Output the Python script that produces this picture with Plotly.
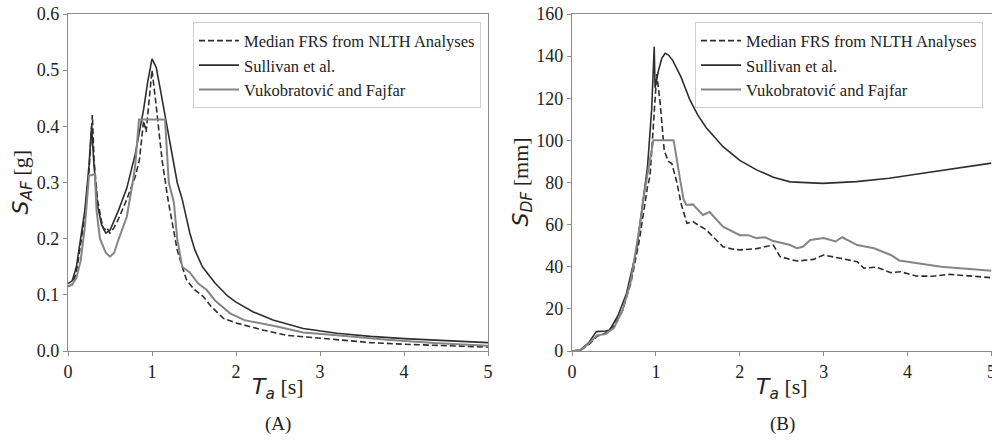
import plotly.graph_objects as go

# ---------------- Panel (A): floor acceleration spectra S_AF [g] ----------------
ta_med_a = [0, 0.05, 0.1, 0.15, 0.2, 0.25, 0.27, 0.29, 0.31, 0.35, 0.4, 0.43, 0.46, 0.5, 0.55, 0.6,
            0.7, 0.8, 0.85, 0.9, 0.93, 0.97, 1.0, 1.04, 1.07, 1.12, 1.19, 1.3, 1.35, 1.41, 1.5, 1.61,
            1.7, 1.85, 2.0, 2.33, 2.6, 3.2, 3.6, 4.0, 4.5, 5.0]
saf_med = [0.115, 0.118, 0.14, 0.19, 0.24, 0.32, 0.38, 0.42, 0.34, 0.27, 0.23, 0.215, 0.22, 0.21, 0.22, 0.235,
           0.27, 0.31, 0.34, 0.41, 0.39, 0.45, 0.50, 0.45, 0.41, 0.34, 0.27, 0.18, 0.155, 0.127, 0.11, 0.097,
           0.08, 0.058, 0.05, 0.037, 0.028, 0.02, 0.015, 0.012, 0.009, 0.007]

ta_sul_a = [0, 0.05, 0.1, 0.15, 0.2, 0.25, 0.28, 0.31, 0.35, 0.4, 0.45, 0.5, 0.6, 0.7, 0.8, 0.9, 0.95,
            1.0, 1.05, 1.1, 1.2, 1.3, 1.36, 1.45, 1.51, 1.6, 1.75, 1.9, 2.0, 2.2, 2.44, 2.8, 3.2, 3.6, 4.0, 4.5, 5.0]
saf_sul = [0.12, 0.125, 0.15, 0.2, 0.25, 0.33, 0.40, 0.33, 0.26, 0.225, 0.21, 0.215, 0.25, 0.29, 0.35, 0.43, 0.48,
           0.52, 0.505, 0.465, 0.385, 0.30, 0.27, 0.21, 0.18, 0.15, 0.121, 0.098, 0.087, 0.07, 0.055, 0.04, 0.0315,
           0.026, 0.022, 0.018, 0.015]

ta_vf_a = [0, 0.05, 0.1, 0.15, 0.2, 0.24, 0.25, 0.32, 0.34, 0.38, 0.45, 0.5, 0.55, 0.6, 0.7, 0.77, 0.8, 0.845,
           1.155, 1.2, 1.24, 1.26, 1.3, 1.36, 1.45, 1.55, 1.65, 1.75, 1.93, 2.1, 2.5, 2.8, 3.2, 3.8, 4.4, 5.0]
saf_vf = [0.115, 0.118, 0.13, 0.16, 0.22, 0.30, 0.312, 0.315, 0.25, 0.2, 0.175, 0.168, 0.175, 0.198, 0.239, 0.30,
          0.33, 0.412, 0.412, 0.30, 0.275, 0.265, 0.2, 0.15, 0.14, 0.12, 0.109, 0.09, 0.067, 0.055, 0.043, 0.033,
          0.028, 0.02, 0.014, 0.0095]

# ---------------- Panel (B): floor displacement spectra S_DF [mm] ----------------
ta_med_b = [0, 0.1, 0.2, 0.3, 0.4, 0.5, 0.6, 0.7, 0.8, 0.85, 0.9, 0.93, 0.97, 1.01, 1.05, 1.1, 1.15, 1.19,
            1.25, 1.3, 1.37, 1.44, 1.6, 1.8, 1.9, 2.0, 2.2, 2.4, 2.48, 2.68, 2.88, 3.0, 3.2, 3.4, 3.48, 3.63,
            3.8, 3.92, 4.1, 4.3, 4.5, 4.7, 5.0]
sdf_med = [0, 0.3, 3, 7, 8.5, 12, 19, 32, 52, 65, 78, 83, 110, 131.5, 118, 95, 90, 89,
           80, 70, 60.6, 61.4, 57.5, 49.5, 48.5, 48, 48.6, 50.3, 44.8, 42.7, 43.5, 45.6, 44, 42.4, 39.3, 39.8,
           37.2, 37.6, 35.6, 35.5, 36.4, 35.8, 34.8]

ta_sul_b = [0, 0.1, 0.2, 0.29, 0.4, 0.45, 0.55, 0.65, 0.77, 0.85, 0.9, 0.95, 0.98, 0.99, 1.03, 1.07, 1.11,
            1.15, 1.2, 1.3, 1.405, 1.5, 1.6, 1.8, 2.0, 2.2, 2.4, 2.6, 2.99, 3.39, 3.78, 4.18, 4.58, 5.0]
sdf_sul = [0, 0.5, 4, 9.2, 9.5, 10, 17, 27.4, 48, 71.7, 87.5, 115, 144.5, 125, 133, 139, 141.3,
           140.5, 138, 130, 119.2, 112, 106, 97, 90.5, 86, 82.5, 80.3, 79.6, 80.4, 82, 84.4, 86.7, 89.2]

ta_vf_b = [0, 0.1, 0.2, 0.3, 0.4, 0.5, 0.6, 0.7, 0.81, 0.85, 0.9, 0.95, 0.97, 1.21, 1.22, 1.29, 1.33, 1.365,
           1.44, 1.56, 1.64, 1.8, 2.0, 2.1, 2.2, 2.3, 2.4, 2.6, 2.68, 2.75, 2.84, 3.0, 3.14, 3.22, 3.4, 3.6,
           3.8, 3.9, 4.0, 4.4, 5.0]
sdf_vf = [0, 0.3, 3.5, 7.5, 8, 11, 19, 33, 60, 72, 84, 97, 100, 100, 98, 81, 72, 69.3,
          69.6, 64.6, 66, 59, 55, 55, 53.6, 54, 52.2, 50.3, 48.8, 49.5, 52.7, 53.6, 52, 54, 50.3, 48.8,
          45.6, 43, 42.4, 40, 38.1]

series_names = ["Median FRS from NLTH Analyses", "Sullivan et al.", "Vukobratović and Fajfar"]
x_ticks = [0, 1, 2, 3, 4, 5]

DARK = "#2e2e2e"
GRAY = "#858585"
SERIF = "Liberation Serif, Times New Roman, serif"
SANS = "DejaVu Sans, sans-serif"

W, H = 992, 441

fig = go.Figure()

def add_panel(xa, ya, legend, data):
    styles = [dict(color=DARK, width=1.6, dash="6px,3px"),
              dict(color=DARK, width=1.6),
              dict(color=GRAY, width=2.0)]
    for name, (xs, ys), st in zip(series_names, data, styles):
        fig.add_trace(go.Scatter(x=xs, y=ys, mode="lines", name=name, line=st,
                                 xaxis=xa, yaxis=ya, legend=legend))

add_panel("x", "y", "legend",
          [(ta_med_a, saf_med), (ta_sul_a, saf_sul), (ta_vf_a, saf_vf)])
add_panel("x2", "y2", "legend2",
          [(ta_med_b, sdf_med), (ta_sul_b, sdf_sul), (ta_vf_b, sdf_vf)])

axis_common = dict(showline=True, mirror=True, linecolor="#8c8c8c", linewidth=1.3,
                   ticks="outside", ticklen=4, tickcolor="#8c8c8c", tickwidth=1,
                   showgrid=False, zeroline=False, automargin=False,
                   ticklabeloverflow="allow",
                   tickfont=dict(family=SERIF, size=18, color="#222"))

legend_common = dict(bgcolor="rgba(255,255,255,0.9)", bordercolor="#cfcfcf", borderwidth=1,
                     font=dict(family=SERIF, size=16.5, color="#222"),
                     xanchor="right", yanchor="top", tracegroupgap=0, itemwidth=40)

fig.update_layout(
    width=W, height=H,
    margin=dict(l=0, r=0, t=14, b=90, autoexpand=False),
    paper_bgcolor="white", plot_bgcolor="white",
    showlegend=True,
    xaxis=dict(domain=[68/W, 488/W], range=[0, 5], tickvals=x_ticks, anchor="y", **axis_common),
    yaxis=dict(domain=[0, 1], range=[0, 0.6], dtick=0.1, tickformat=".1f", anchor="x", **axis_common),
    xaxis2=dict(domain=[572/W, 0.9995], range=[0, 5], tickvals=x_ticks, anchor="y2", **axis_common),
    yaxis2=dict(domain=[0, 1], range=[0, 160], dtick=20, anchor="x2", **axis_common),
    legend=dict(x=481/W, y=0.975, **legend_common),
    legend2=dict(x=983/W, y=0.975, **legend_common),
)

def ytitle(sub, unit):
    return (f"<span style='font-family:{SANS}'><i>S</i><sub><i>{sub}</i></sub></span>"
            f"<span style='font-family:{SERIF}'> [{unit}]</span>")

def xtitle():
    return (f"<span style='font-family:{SANS}'><i>T</i><sub><i>a</i></sub></span>"
            f"<span style='font-family:{SERIF}'> [s]</span>")

annots = [
    dict(x=278/W, y=-0.11, text=xtitle(), font=dict(size=22, color="#222")),
    dict(x=782/W, y=-0.11, text=xtitle(), font=dict(size=22, color="#222")),
    dict(x=278/W, y=-0.218, text="(A)", font=dict(family=SERIF, size=19, color="#222")),
    dict(x=782/W, y=-0.218, text="(B)", font=dict(family=SERIF, size=19, color="#222")),
    dict(x=22/W, y=0.50, text=ytitle("AF", "g"), textangle=-90, font=dict(size=22, color="#222")),
    dict(x=522/W, y=0.50, text=ytitle("DF", "mm"), textangle=-90, font=dict(size=22, color="#222")),
]
for a in annots:
    fig.add_annotation(xref="paper", yref="paper", showarrow=False,
                       xanchor="center", yanchor="middle", **a)

# remove the browser's default 8px body margin so the figure fills the window exactly
fig.write_html("out.html", config={"displayModeBar": False},
               post_script="document.body.style.margin='0';document.body.style.overflow='hidden';")
